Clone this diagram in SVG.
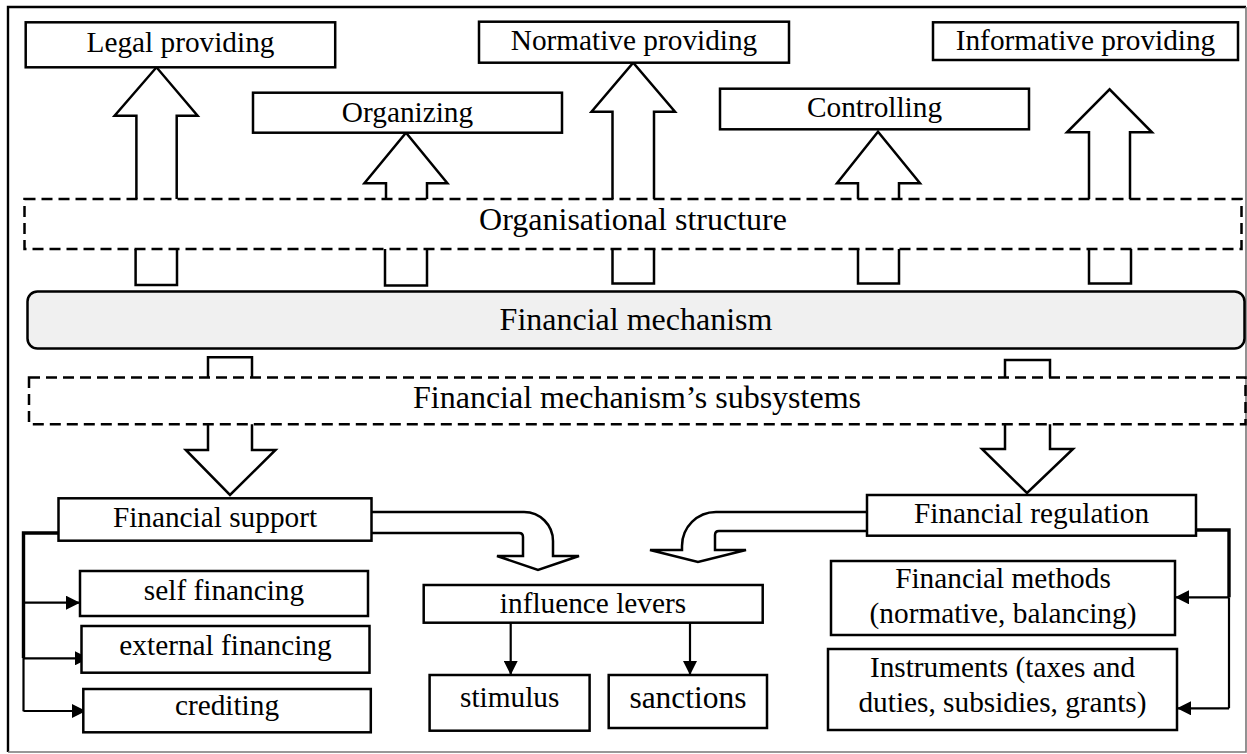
<svg xmlns="http://www.w3.org/2000/svg" width="1247" height="754" viewBox="0 0 1247 754">
<style>
.box{fill:#fff;stroke:#000;stroke-width:2.5}
.mech{fill:#f0f0f0;stroke:#000;stroke-width:2.5}
.dash{fill:none;stroke:#000;stroke-width:2.5;stroke-dasharray:11 6}
.blk{fill:#fff;stroke:#000;stroke-width:2.5;stroke-linejoin:miter}
.ln{fill:none;stroke:#000;stroke-width:2.2}
.thick{fill:none;stroke:#000;stroke-width:3.4}
.t{font-family:"Liberation Serif","Times New Roman",serif;font-size:29.3px;text-anchor:middle;fill:#000}
.tl{font-size:32px}
</style>
<defs>
<marker id="ah" markerUnits="userSpaceOnUse" markerWidth="14" markerHeight="14" refX="14" refY="7" orient="auto">
<path d="M0,0 L14,7 L0,14 z" fill="#000"/>
</marker>
</defs>
<rect x="0" y="0" width="1247" height="754" fill="#fff"/>
<g id="frame">
<path d="M8,752 V7 H1246" fill="none" stroke="#000" stroke-width="2.4"/>
<path d="M1246,7 V752 H8" fill="none" stroke="#777" stroke-width="1.6"/>
</g>
<g id="connectors">
<path class="blk" d="M136.4,199 V115.7 H114.6 L156.5,67.3 L197.6,115.7 H176.7 V199"/>
<path class="blk" d="M386,199 V183.3 H364.4 L406,132.7 L447.4,183.3 H427 V199"/>
<path class="blk" d="M612.5,199 V111.7 H591.5 L633.2,62.7 L675,111.7 H654 V199"/>
<path class="blk" d="M858,199 V183.3 H837 L878,131.7 L920,183.3 H899 V199"/>
<path class="blk" d="M1089,199 V132.3 H1067 L1109.6,89.3 L1152,132.3 H1130 V199"/>
<path class="blk" d="M135.6,249 V285 H177 V249"/>
<path class="blk" d="M385,249 V285.5 H427 V249"/>
<path class="blk" d="M612.5,249 V283.5 H654 V249"/>
<path class="blk" d="M858,249 V283.5 H899 V249"/>
<path class="blk" d="M1089,249 V283.5 H1131 V249"/>
<path class="blk" d="M208,377.5 V357.3 H252 V377.5"/>
<path class="blk" d="M1005,377.5 V360 H1050 V377.5"/>
<path class="blk" d="M208,424.3 V450 H185.8 L230,495 L275.5,450 H252 V424.3"/>
<path class="blk" d="M1005,424.3 V449 H982 L1027,493 L1073,449 H1050 V424.3"/>
<path class="blk" d="M371.5,512 H524 A29,29 0 0 1 553,541 V556 H579 L538,570 L497,556 H523 V537 Q523,533 519,533 H371.5"/>
<path class="blk" d="M867,512 H716 A34,34 0 0 0 682,546 V550 H650 L698,562 L746,550 H715 V535 Q715,531 719,531 H867"/>
<path class="thick" d="M58.5,533 H23.5 V658"/>
<path class="ln" d="M23.5,658 V711.3"/>
<path class="ln" d="M23.5,602.7 H80" marker-end="url(#ah)"/>
<path class="ln" d="M23.5,658.3 H89" marker-end="url(#ah)"/>
<path class="ln" d="M23.5,711 H86" marker-end="url(#ah)"/>
<path class="thick" d="M1196,530 H1229 V597.3"/>
<path class="ln" d="M1229,597.3 V708.3"/>
<path class="ln" d="M1229,597.3 H1175" marker-end="url(#ah)"/>
<path class="ln" d="M1229,708.3 H1177" marker-end="url(#ah)"/>
<path class="ln" d="M510.7,622.7 V675" marker-end="url(#ah)"/>
<path class="ln" d="M690,622.7 V675" marker-end="url(#ah)"/>
</g>
<g id="legal"><rect class="box" x="25.7" y="22.3" width="309.5" height="45"/><text class="t" x="180.5" y="51.7">Legal providing</text></g>
<g id="normative"><rect class="box" x="479" y="21.7" width="310" height="41"/><text class="t" x="634" y="50">Normative providing</text></g>
<g id="informative"><rect class="box" x="933" y="22.3" width="305" height="37.7"/><text class="t" x="1085.5" y="50">Informative providing</text></g>
<g id="organizing"><rect class="box" x="253" y="92.7" width="309" height="40"/><text class="t" x="407.5" y="121.7">Organizing</text></g>
<g id="controlling"><rect class="box" x="720" y="88.7" width="309" height="40.6"/><text class="t" x="874.5" y="117.3">Controlling</text></g>
<g id="orgstructure"><rect class="dash" x="24.5" y="199" width="1217" height="50"/><text class="t tl" x="633" y="230">Organisational structure</text></g>
<g id="finmechanism"><rect class="mech" x="27.5" y="291.5" width="1217" height="57" rx="10" ry="10"/><text class="t tl" x="636" y="330">Financial mechanism</text></g>
<g id="subsystems"><rect class="dash" x="29" y="377.5" width="1216.5" height="46.8"/><text class="t tl" x="637" y="408">Financial mechanism’s subsystems</text></g>
<g id="finsupport"><rect class="box" x="58.5" y="498.3" width="313" height="42.4"/><text class="t" x="215" y="526.7">Financial support</text></g>
<g id="finregulation"><rect class="box" x="867" y="495" width="329" height="40.7"/><text class="t" x="1031.5" y="523">Financial regulation</text></g>
<g id="selffinancing"><rect class="box" x="80" y="571" width="288" height="45"/><text class="t" x="224" y="600">self financing</text></g>
<g id="externalfinancing"><rect class="box" x="81.5" y="626" width="288" height="46.7"/><text class="t" x="225.5" y="655">external financing</text></g>
<g id="crediting"><rect class="box" x="83.3" y="689" width="287.5" height="43.3"/><text class="t" x="227" y="715">crediting</text></g>
<g id="influence"><rect class="box" x="423.7" y="585" width="339" height="37.7"/><text class="t" x="593" y="613">influence levers</text></g>
<g id="stimulus"><rect class="box" x="429.6" y="675" width="160" height="55.7"/><text class="t" x="509.7" y="706.7">stimulus</text></g>
<g id="sanctions"><rect class="box" x="608.7" y="675" width="158.3" height="53"/><text class="t" x="688" y="708" style="font-size:31.5px">sanctions</text></g>
<g id="finmethods"><rect class="box" x="831" y="561" width="344" height="74"/><text class="t" x="1003" y="588.3">Financial methods</text><text class="t" x="1003" y="623.3">(normative, balancing)</text></g>
<g id="instruments"><rect class="box" x="828" y="649" width="349" height="81"/><text class="t" x="1002.5" y="676.7">Instruments (taxes and</text><text class="t" x="1002.5" y="711.7">duties, subsidies, grants)</text></g>
</svg>
